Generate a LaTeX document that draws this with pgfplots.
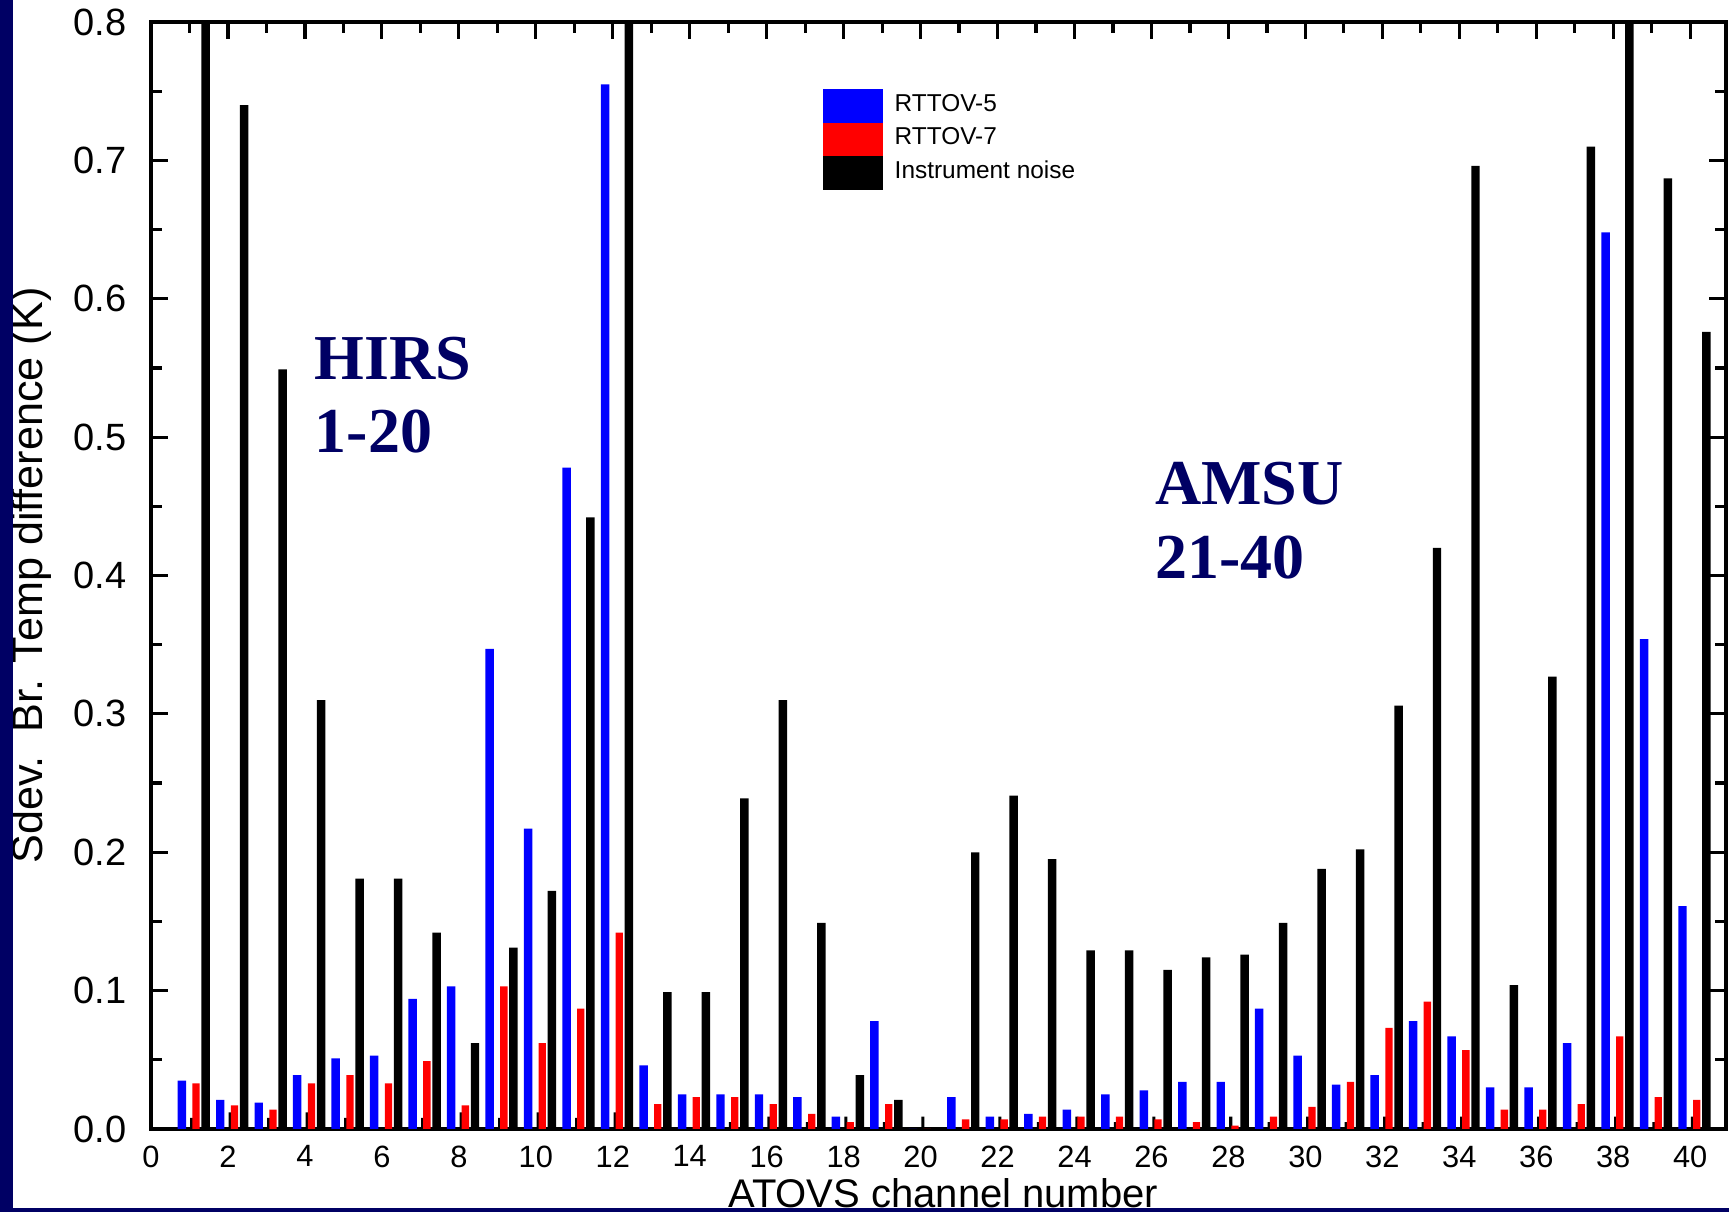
\documentclass[border=0pt]{standalone}
\usepackage{pgfplots}
\pgfplotsset{compat=1.18}
\usepackage{pgfplotstable}
\usepackage{fontspec}
\setmainfont{Liberation Sans}
\newfontfamily\seriffont{Liberation Serif}
\definecolor{navy}{RGB}{0,0,100}

\pgfplotstableread{
ch blue stub red black
1 0.035 0.008 0.033 1.0
2 0.021 0.012 0.017 0.740
3 0.019 0.008 0.014 0.549
4 0.039 0.012 0.033 0.310
5 0.051 0.008 0.039 0.181
6 0.053 0.0 0.033 0.181
7 0.094 0.008 0.049 0.142
8 0.103 0.012 0.017 0.062
9 0.347 0.008 0.103 0.131
10 0.217 0.012 0.062 0.172
11 0.478 0.008 0.087 0.442
12 0.755 0.012 0.142 1.0
13 0.046 0.0 0.018 0.099
14 0.025 0.0 0.023 0.099
15 0.025 0.005 0.023 0.239
16 0.025 0.009 0.018 0.310
17 0.023 0.005 0.011 0.149
18 0.009 0.009 0.005 0.039
19 0.078 0.005 0.018 0.021
20 0.0 0.009 0.0 0.0
21 0.023 0.0 0.007 0.200
22 0.009 0.009 0.007 0.241
23 0.011 0.005 0.009 0.195
24 0.014 0.009 0.009 0.129
25 0.025 0.005 0.009 0.129
26 0.028 0.009 0.007 0.115
27 0.034 0.0 0.005 0.124
28 0.034 0.009 0.0025 0.126
29 0.087 0.005 0.009 0.149
30 0.053 0.009 0.016 0.188
31 0.032 0.005 0.034 0.202
32 0.039 0.009 0.073 0.306
33 0.078 0.005 0.092 0.420
34 0.067 0.009 0.057 0.696
35 0.030 0.0 0.014 0.104
36 0.030 0.009 0.014 0.327
37 0.062 0.005 0.018 0.710
38 0.648 0.009 0.067 1.0
39 0.354 0.005 0.023 0.687
40 0.161 0.009 0.021 0.576
}\datatable

\begin{document}
\begin{tikzpicture}
\fill[white] (0,0) rectangle (432.25pt,303pt);
\useasboundingbox (0,0) rectangle (432.25pt,303pt);
\begin{axis}[
  at={(37.75pt,20.75pt)}, anchor=south west,
  scale only axis, width=393.75pt, height=276.75pt,
  xmin=0, xmax=40.93, ymin=0, ymax=0.8,
  xtick={0,2,4,6,8,10,12,14,16,18,20,22,24,26,28,30,32,34,36,38,40},
  minor x tick num=1,
  ytick={0,0.1,0.2,0.3,0.4,0.5,0.6,0.7,0.8},
  minor y tick num=1,
  xtick pos=right, xticklabel pos=left,
  ytick pos=both, yticklabel pos=left,
  tick align=inside,
  major tick length=4.3pt, minor tick length=2.75pt,
  tick style={black, line width=0.8pt},
  axis line style={line width=0.8pt},
  /pgf/number format/assume math mode=true,
  xticklabel style={font=\fontsize{7.7}{8}\selectfont, anchor=north, inner sep=0pt, yshift=-4pt},
  yticklabel style={font=\fontsize{9.5}{10}\selectfont, anchor=east, inner sep=0pt, xshift=-6pt,
    /pgf/number format/.cd, fixed, fixed zerofill, precision=1},
  xlabel={ATOVS channel number},
  xlabel style={at={(axis description cs:0.503,-0.0705)}, anchor=base, font=\fontsize{10}{12}\selectfont},
  ylabel={Sdev.\ \ Br. Temp difference (K)},
  ylabel style={at={(axis description cs:-0.0762,0.5)}, anchor=center, font=\fontsize{10.8}{12}\selectfont},
  legend style={at={(axis description cs:0.4265,0.9395)}, anchor=north west, draw=none, fill=none,
    inner sep=0pt, outer sep=0pt, row sep=0pt, column sep=3pt,
    font=\fontsize{6.1}{7}\selectfont, nodes={inner sep=0pt, outer sep=0pt}},
  legend cell align=left,
]
\addplot[ybar, bar width=0.22, bar shift=-0.2, fill=blue, draw=none,
  legend image code/.code={\fill[blue] (0pt,-4.2pt) rectangle (15pt,4.2pt);}]
  table[x=ch, y=blue] {\datatable};
\addlegendentry{RTTOV-5}
\addplot[ybar, bar width=0.08, bar shift=0.06, fill=black, draw=none, forget plot]
  table[x=ch, y=stub] {\datatable};
\addplot[ybar, bar width=0.19, bar shift=0.17, fill=red, draw=none,
  legend image code/.code={\fill[red] (0pt,-4.2pt) rectangle (15pt,4.2pt);}]
  table[x=ch, y=red] {\datatable};
\addlegendentry{RTTOV-7}
\addplot[ybar, bar width=0.22, bar shift=0.42, fill=black, draw=none,
  legend image code/.code={\fill[black] (0pt,-4.2pt) rectangle (15pt,4.2pt);}]
  table[x=ch, y=black] {\datatable};
\addlegendentry{Instrument noise}

\node[anchor=base west, text=navy, font=\seriffont\bfseries\fontsize{16}{18}\selectfont, inner sep=0pt] at (axis cs:4.24,0.542) {HIRS};
\node[anchor=base west, text=navy, font=\seriffont\bfseries\fontsize{16}{18}\selectfont, inner sep=0pt] at (axis cs:4.24,0.489) {1-20};
\node[anchor=base west, text=navy, font=\seriffont\bfseries\fontsize{16}{18}\selectfont, inner sep=0pt] at (axis cs:26.08,0.451) {AMSU};
\node[anchor=base west, text=navy, font=\seriffont\bfseries\fontsize{16}{18}\selectfont, inner sep=0pt] at (axis cs:26.08,0.398) {21-40};
\end{axis}
\fill[navy] (0,0) rectangle (3.25pt,303pt);
\fill[navy] (0,0) rectangle (432.25pt,1pt);
\end{tikzpicture}
\end{document}
